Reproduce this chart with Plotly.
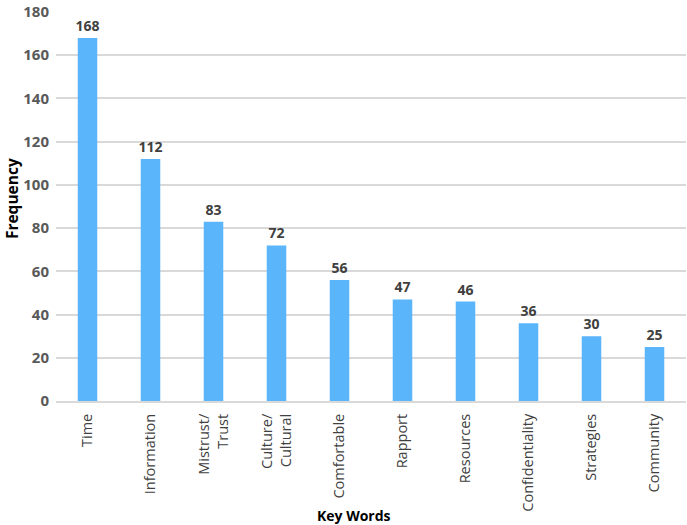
import plotly.graph_objects as go

categories = ["Time", "Information", "Mistrust/<br>Trust", "Culture/<br>Cultural", "Comfortable",
              "Rapport", "Resources", "Confidentiality", "Strategies", "Community"]
values = [168, 112, 83, 72, 56, 47, 46, 36, 30, 25]
y_ticks = [0, 20, 40, 60, 80, 100, 120, 140, 160, 180]

fig = go.Figure(go.Bar(
    x=categories, y=values,
    marker=dict(color="#5BB5FB", line=dict(width=0)),
    text=[str(v) for v in values],
    textposition="outside",
    constraintext="none",
    textfont=dict(family="Open Sans", size=14, color="#404040", weight="bold"),
    cliponaxis=False,
))

fig.update_layout(
    width=687, height=525,
    margin=dict(l=56, r=1, t=12, b=124),
    plot_bgcolor="white", paper_bgcolor="white",
    bargap=0.69,
    showlegend=False,
    font=dict(family="Open Sans"),
    xaxis=dict(
        tickangle=-90,
        tickfont=dict(family="Open Sans", size=14.5, color="#404040"),
        showgrid=False, showline=True, linecolor="#D9D9D9", linewidth=2,
        ticks="", ticklabelstandoff=5,
    ),
    yaxis=dict(
        range=[0, 180], tickvals=y_ticks,
        tickfont=dict(family="Open Sans", size=15, color="#595959", weight="bold"),
        showgrid=True, gridcolor="#D9D9D9", gridwidth=2,
        zeroline=False, ticks="", ticklabelstandoff=6,
    ),
    annotations=[
        dict(text="<b>Frequency</b>", x=0, y=0.519, xref="paper", yref="paper",
             xanchor="center", yanchor="middle", textangle=-90, showarrow=False,
             font=dict(family="Open Sans", size=15.5, color="black"), xshift=-44),
        dict(text="<b>Key Words</b>", x=0.473, y=0, xref="paper", yref="paper",
             xanchor="center", yanchor="middle", showarrow=False, yshift=-114,
             font=dict(family="Open Sans", size=14, color="black")),
    ],
)

fig.write_html("out.html", config={"displayModeBar": False},
               post_script="document.body.style.margin='0';")
